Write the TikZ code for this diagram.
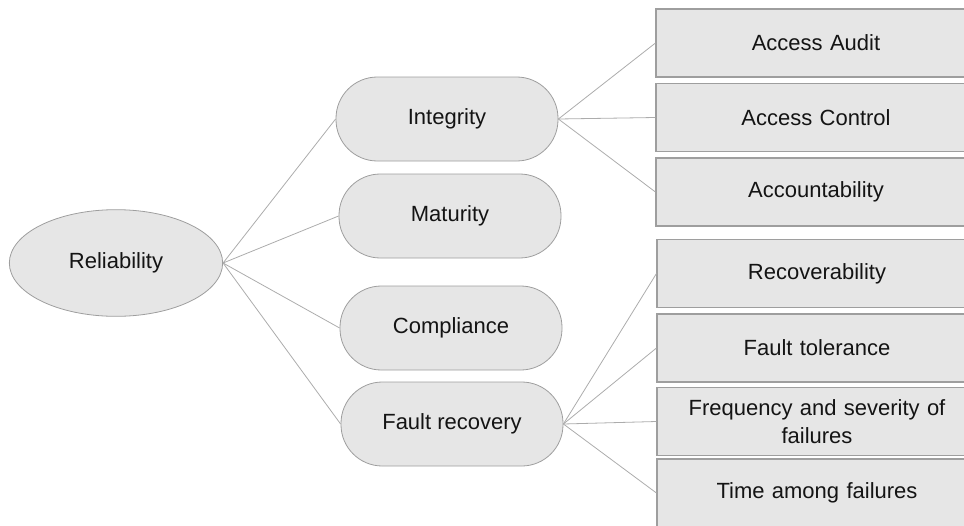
\documentclass[tikz,border=0pt]{standalone}
\usepackage{fontspec}
\setmainfont{Liberation Sans}
\usepackage{tikz}
\usetikzlibrary{shapes.geometric, positioning}
\definecolor{mygrey}{RGB}{230,230,230}
\definecolor{myedge}{RGB}{158,158,158}
\definecolor{mylink}{RGB}{172,172,172}
\definecolor{mytext}{RGB}{20,20,20}
\tikzset{
  rootnode/.style={ellipse, draw=myedge, fill=mygrey, inner sep=0pt,
    minimum width=160pt, minimum height=80pt, text=mytext,
    font=\fontsize{16.5}{20}\selectfont, line width=0.6pt},
  pill/.style={rectangle, draw=myedge, fill=mygrey, rounded corners=31pt,
    minimum width=166.5pt, minimum height=63pt, text=mytext,
    font=\fontsize{16.5}{20}\selectfont, line width=0.6pt},
  leaf/.style={rectangle, draw=myedge, fill=mygrey, inner sep=0pt,
    minimum width=240pt, minimum height=51pt, text width=205pt,
    align=center, text=mytext,
    font=\fontsize{16.5}{21}\selectfont, line width=0.8pt},
  link/.style={draw=mylink, line width=0.6pt}
}

\begin{document}
\begin{tikzpicture}[x=0.75pt, y=-0.75pt]
  \useasboundingbox (0,0) rectangle (964,525);
  \clip (0,0) rectangle (964,525);

  \node[rootnode] (rel) at (116, 263) {Reliability};

  \node[pill] (integ) at (447, 119) {Integrity};
  \node[pill] (matur) at (450, 216) {Maturity};
  \node[pill] (compl) at (451, 328) {Compliance};
  \node[pill] (fault) at (452, 424) {Fault recovery};

  \node[leaf] (audit) at (816, 43) {Access Audit};
  \node[leaf] (control) at (816, 117.5) {Access Control};
  \node[leaf] (account) at (816, 192) {Accountability};
  \node[leaf] (recover) at (817, 273.5) {Recoverability};
  \node[leaf] (toler) at (817, 348) {Fault tolerance};
  \node[leaf] (freq) at (817, 421.5) {Frequency and severity of\\failures};
  \node[leaf] (mtbf) at (817, 493) {Time among failures};

  % Paths
  \draw[link] (rel.east) -- (integ.west);
  \draw[link] (rel.east) -- (matur.west);
  \draw[link] (rel.east) -- (compl.west);
  \draw[link] (rel.east) -- (fault.west);

  \draw[link] (integ.east) -- (audit.west);
  \draw[link] (integ.east) -- (control.west);
  \draw[link] (integ.east) -- (account.west);

  \draw[link] (fault.east) -- (recover.west);
  \draw[link] (fault.east) -- (toler.west);
  \draw[link] (fault.east) -- (freq.west);
  \draw[link] (fault.east) -- (mtbf.west);
\end{tikzpicture}
\end{document}
